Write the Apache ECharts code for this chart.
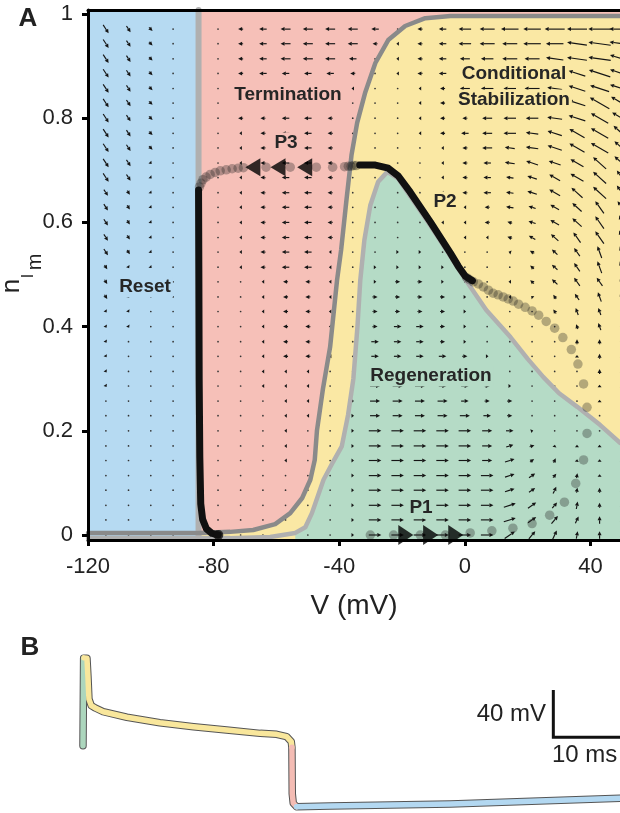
<!DOCTYPE html>
<html>
<head>
<meta charset="utf-8">
<script src="https://cdn.jsdelivr.net/npm/echarts@6/dist/echarts.min.js"></script>
<style>
html, body { margin: 0; padding: 0; background: #fff; }
#chart { width: 620px; height: 813px; }
</style>
</head>
<body>
<div id="chart"></div>
<script>
// ---------- panel A: phase plane ----------
var xTicks = [-120, -80, -40, 0, 40];
var yTicks = [0, 0.2, 0.4, 0.6, 0.8, 1];
var resetEdge = -84.8;

// dark grey boundary (termination / conditional stabilization)
var darkV = [-120, -84.8, -74.7, -67.4, -60.4, -55.6, -51.8, -49.2, -47.8, -47.1, -45.2, -42.9, -40.7, -39.4, -37.7, -36.1, -34.3, -31.7, -28.5, -24.4, -19, -12.6, -4.6, 49.4];
var darkN = [0.004, 0.004, 0.006, 0.0096, 0.021, 0.042, 0.071, 0.106, 0.144, 0.2, 0.28, 0.361, 0.489, 0.547, 0.643, 0.729, 0.791, 0.85, 0.906, 0.95, 0.977, 0.992, 0.996, 0.996];

// light grey boundary (regeneration)
var lightV = [-120, -74.7, -62, -54, -50.8, -48.7, -45, -42, -39.2, -37.2, -35.5, -34.2, -33.3, -32, -30.1, -27.6, -24.7, -21.2, -17.4, -11, -4.6, 0, 6.8, 14.5, 20, 25, 30, 35.8, 43.1, 49.4];
var lightN = [-0.006, -0.006, -0.004, 0.004, 0.015, 0.042, 0.106, 0.14, 0.17, 0.23, 0.3, 0.4, 0.489, 0.566, 0.633, 0.678, 0.697, 0.684, 0.65, 0.594, 0.535, 0.492, 0.432, 0.38, 0.338, 0.303, 0.272, 0.246, 0.211, 0.177];

// vector field: columns (mV), rows (n, top to bottom)
var fieldV = [-114.3, -107.1, -100, -92.9, -85.7, -78.6, -71.4, -64.3, -57.1, -50, -42.9, -35.7, -28.6, -21.4, -14.3, -7.1, 0, 7.1, 14.3, 21.4, 28.6, 35.7, 42.9, 50];
var fieldN = [0.971, 0.943, 0.914, 0.886, 0.857, 0.829, 0.8, 0.771, 0.743, 0.714, 0.686, 0.657, 0.629, 0.6, 0.571, 0.543, 0.514, 0.486, 0.457, 0.429, 0.4, 0.371, 0.343, 0.314, 0.286, 0.257, 0.229, 0.2, 0.171, 0.143, 0.114, 0.086, 0.057, 0.029, 0];
// each token: direction letter + length (base 36), "o0" = dot, "--" = none
var fieldRows = [
  "p4 p3 q2 o0 -- o0 a2 a3 a4 a4 a4 a4 a3 o0 a2 a3 a5 a6 a7 a7 a8 a8 a9 aA",
  "p4 p3 q2 o0 -- o0 a2 a3 a4 a4 a4 a4 a2 a1 a2 a3 a5 a6 a6 a7 a7 b8 b9 bA",
  "p4 p3 q2 o0 -- o0 a2 a3 a4 a4 a4 a3 o0 a1 a2 a3 a4 a5 a6 a6 b7 b8 b9 cA",
  "p4 p3 q2 o0 -- o0 a2 a3 a3 a3 a3 a2 o0 a1 a2 a3 a4 a5 a5 a6 b7 c7 c9 cA",
  "p4 p3 q2 o0 -- o0 a2 a3 a3 a3 a3 a1 o0 o0 a1 a2 a4 a5 a5 a6 b6 c7 c8 cA",
  "p4 p3 q2 o0 -- o0 a2 a3 a3 a3 a2 o0 o0 o0 a1 a2 a3 a4 a5 a5 b6 c7 d9 dA",
  "p4 p3 q2 o0 -- o0 a2 a2 a3 a3 a2 o0 o0 o0 a1 a2 a2 a4 a5 a5 b6 c7 d8 d9",
  "p4 p3 q2 o0 -- o0 a1 a2 a3 a3 a2 o0 o0 o0 a1 a2 a3 a4 a5 b5 c6 d7 d8 e9",
  "p4 p3 q2 o0 -- o0 a1 a2 a3 a3 a2 o0 o0 o0 o0 a1 a2 a4 b4 b5 c6 d7 d8 e8",
  "p4 p3 q1 o0 -- o0 a1 a2 a3 a3 a2 o0 o0 o0 o0 a1 a2 a3 b4 c5 c5 d6 e7 e8",
  "p4 p3 q1 o0 -- o0 a1 a2 a3 a3 a2 o0 o0 o0 o0 a1 a2 a3 b3 c4 d5 d6 e7 f7",
  "p3 p2 q1 o0 -- o0 a1 a2 a3 a3 a2 o0 o0 o0 o0 a1 a2 a3 b3 c4 d5 e6 e7 f7",
  "p3 p2 q1 o0 -- o0 a1 a2 a3 a3 a2 o0 o0 o0 o0 a1 a1 a2 b3 c3 d4 e5 f6 f6",
  "p3 p2 q1 o0 -- o0 a1 a2 a3 a3 a2 o0 o0 o0 o0 a1 a1 a2 c2 c3 d4 e5 f6 g6",
  "p3 p2 q1 o0 -- o0 a1 a2 a3 a3 a2 o0 o0 o0 o0 o0 a1 a1 c2 d3 e4 f5 f6 g6",
  "p3 p2 q1 o0 -- o0 a1 a2 a3 a3 a1 o0 o0 n1 n1 o0 o0 o0 c1 d2 e3 f4 g5 g5",
  "p2 p1 q1 o0 -- o0 a1 a2 a3 a3 a1 o0 n1 n1 n1 n1 o0 o0 o0 e2 e3 f4 g5 g5",
  "p2 p1 o0 o0 -- o0 o0 a1 a2 a2 a1 o0 n1 n2 n2 n1 o0 o0 a1 e2 e3 f4 f4 g4",
  "p2 p1 o0 o0 -- o0 o0 a1 a2 a2 a1 o0 n2 n2 n2 n2 n1 o0 a1 e1 f2 f3 g4 g4",
  "p1 p1 o0 o0 -- o0 o0 a1 a2 a2 a1 o0 n2 n2 n2 n2 n1 o0 o0 o0 f2 g3 g3 h4",
  "p1 p1 o0 o0 -- o0 o0 a1 a2 a2 a1 o0 n2 n3 n3 n2 n1 o0 o0 o0 o0 g2 g3 h3",
  "p1 o0 o0 o0 -- o0 o0 a1 a2 a2 a1 o0 n3 n3 n3 n2 n1 o0 o0 o0 o0 h2 h2 h3",
  "p1 o0 o0 o0 -- o0 o0 a1 a2 a2 a1 o0 n3 n3 n3 n3 n2 n1 o0 o0 o0 h1 h2 h2",
  "p1 o0 o0 o0 -- o0 o0 a1 a1 a1 o0 o0 n3 n3 n3 n3 n2 n1 o0 o0 o0 o0 h2 h2",
  "p1 o0 o0 o0 -- o0 o0 a1 a1 a1 o0 n1 n4 n4 n4 n3 n3 n2 n1 o0 o0 o0 h1 h1",
  "o0 o0 o0 o0 -- o0 o0 o0 a1 a1 o0 n1 n4 n4 n4 n4 n3 n2 n2 o0 o0 o0 h1 h1",
  "o0 o0 o0 o0 -- o0 o0 o0 a1 a1 o0 n1 n4 n4 n4 n4 n4 n3 n2 o0 o0 o0 o0 o0",
  "o0 o0 o0 o0 -- o0 o0 o0 a1 o0 o0 n1 n5 n5 n5 n5 n5 n4 n3 m1 o0 o0 o0 o0",
  "o0 o0 o0 o0 -- o0 o0 o0 a1 o0 o0 n1 n5 n5 n5 n5 n5 n4 m3 m2 i1 h1 h1 o0",
  "o0 o0 o0 o0 -- o0 o0 o0 a1 o0 o0 n1 n5 n5 n5 n5 n5 n4 m4 l2 j2 i1 h1 h1",
  "o0 o0 o0 o0 -- o0 o0 o0 o0 o0 o0 n1 n5 n5 n5 n5 n5 n5 m4 l3 k2 i2 h1 h1",
  "o0 o0 o0 o0 -- o0 o0 o0 o0 o0 o0 n1 n5 n5 n5 n5 n5 n5 m4 l3 j3 i2 h2 h1",
  "o0 o0 o0 o0 -- o0 o0 o0 o0 o0 o0 n1 n5 n5 n5 n5 n5 n5 m5 l4 k3 i3 h2 h2",
  "o0 o0 o0 o0 -- o0 o0 o0 o0 o0 o0 n1 n5 n5 n5 n5 n5 n5 m5 l4 k4 j3 h3 h2",
  "o0 o0 o0 o0 -- o0 o0 o0 o0 o0 o0 n1 n5 n5 n5 n5 n5 n5 l5 k4 j4 i3 h3 h2"
];
var dirAngle = { a: 180, b: 172, c: 162, d: 150, e: 138, f: 125, g: 110, h: 90, i: 80, j: 65, k: 50, l: 35, m: 18, n: 0, p: -57, q: -45, o: 0 };

// trajectory: P1 loop dots, P2 (black), P3 return dots, reset (black)
var loopDotV = [-30.1, -22.7, -14.2, -6.2, 1.7, 8.6, 15.3, 21.4, 27.0, 31.7, 35.3, 37.8, 38.9, 38.9, 37.8, 36.0, 33.9, 31.2, 28.6, 25.9, 23.5, 21.4, 19.2, 17.1, 15.4, 13.8, 12.2, 10.6, 9.0, 7.5, 5.9, 4.3, 2.7, 1.5, 0.6];
var loopDotN = [0, 0, 0, 0, 0.004, 0.008, 0.013, 0.022, 0.038, 0.063, 0.099, 0.144, 0.195, 0.245, 0.29, 0.328, 0.356, 0.379, 0.397, 0.41, 0.422, 0.43, 0.437, 0.443, 0.449, 0.453, 0.457, 0.461, 0.464, 0.47, 0.476, 0.482, 0.486, 0.49, 0.494];
var p2V = [2.4, 0.1, -2.1, -4.6, -11.0, -17.4, -21.2, -24.4, -28.5, -33.5];
var p2N = [0.488, 0.497, 0.516, 0.541, 0.601, 0.658, 0.689, 0.704, 0.710, 0.710];
var returnDotV = [-34.6, -35.4, -36.2, -37.1, -38.3, -42.1, -47.3, -55.6, -63.3, -70.5, -72.2, -74.1, -76.0, -77.9, -79.5, -81.1, -82.4, -83.4, -84.0, -84.5];
var returnDotN = [0.709, 0.709, 0.708, 0.708, 0.707, 0.706, 0.706, 0.706, 0.706, 0.705, 0.704, 0.703, 0.701, 0.699, 0.696, 0.692, 0.687, 0.682, 0.675, 0.668];
var resetV = [-84.8, -84.7, -84.6, -84.4, -84.1, -83.5, -82.3, -80.5, -78.5];
var resetN = [0.662, 0.5, 0.3, 0.15, 0.06, 0.03, 0.012, 0.003, 0];
var p3ArrowV = [-67.5, -59.5, -51];
var p3ArrowN = [0.706, 0.706, 0.706];
var p1ArrowV = [-18.8, -10.9, -2.9];
var p1ArrowN = [0, 0, 0];

// ---------- panel B: action potential ----------
var upT = [0.15, 0.25];
var upV = [-33.5, 40.5];
var plateauT = [0.3, 0.75, 0.9, 1.05, 1.4, 2.0, 3.2, 6.8, 11.8, 16.9, 21.9, 27.0, 29.5, 31.0, 31.7, 31.8];
var plateauV = [40.8, 40.5, 25, 6, 0.5, -1.5, -4.7, -9.4, -14, -17.4, -20.2, -23, -23.8, -25.8, -30, -34.8];
var repolT = [31.8, 31.85, 32.0, 32.5];
var repolV = [-34.8, -74, -82, -85];
var restT = [32.5, 37.6, 55.8, 81.5];
var restV = [-85, -84.4, -82.7, -77.9];
var scaleT = [71.4, 71.4, 81.5];
var scaleV = [13.7, -26.3, -26.3];

var cBlue = '#b6daf2', cPink = '#f6c0b8', cYellow = '#fae8a4', cGreen = '#b5dbc6';
var FONT = 'Liberation Sans, Arial, sans-serif';
var yMin = -0.0096, yMax = 1.0077, xMax = 49.4;

function zip(a, b) {
    var out = [];
    for (var i = 0; i < a.length; i++) out.push([a[i], b[i]]);
    return out;
}

// field data
var fieldData = [];
for (var r = 0; r < fieldRows.length; r++) {
    var toks = fieldRows[r].split(' ');
    for (var c = 0; c < toks.length; c++) {
        if (toks[c] === '--') continue;
        fieldData.push([fieldV[c], fieldN[r], dirAngle[toks[c][0]], parseInt(toks[c][1], 36)]);
    }
}

function renderArrow(params, api) {
    var p = api.coord([api.value(0), api.value(1)]);
    var len = api.value(3) * 2.5;
    var col = '#151515';
    if (len === 0) {
        return { type: 'circle', shape: { cx: p[0], cy: p[1], r: 0.85 }, style: { fill: '#333' } };
    }
    var ang = api.value(2) * Math.PI / 180;
    var ux = Math.cos(ang), uy = -Math.sin(ang);
    var tail = [p[0] - ux * len / 2, p[1] - uy * len / 2];
    var tip = [p[0] + ux * len / 2, p[1] + uy * len / 2];
    var hl = Math.min(4, len), hw = 2;
    var base = [tip[0] - ux * hl, tip[1] - uy * hl];
    var kids = [];
    if (len > hl) {
        kids.push({ type: 'line', shape: { x1: tail[0], y1: tail[1], x2: base[0], y2: base[1] }, style: { stroke: col, lineWidth: 1.15 } });
    }
    kids.push({ type: 'polygon', shape: { points: [tip, [base[0] - uy * hw, base[1] + ux * hw], [base[0] + uy * hw, base[1] - ux * hw]] }, style: { fill: col } });
    return { type: 'group', children: kids };
}

function areaLine(data, color, origin) {
    return {
        type: 'line', data: data, xAxisIndex: 0, yAxisIndex: 0, symbol: 'none', silent: true, z: 1,
        lineStyle: { width: 0 }, areaStyle: { color: color, opacity: 1, origin: origin }
    };
}

function strokeLine(data, color, width, xi, yi, z) {
    return {
        type: 'line', data: data, xAxisIndex: xi, yAxisIndex: yi, symbol: 'none', silent: true, z: z,
        lineStyle: { color: color, width: width, cap: 'round', join: 'round' }
    };
}

function label(text, x, y, bg, size) {
    return {
        type: 'text', x: x, y: y, z: 50,
        style: {
            text: text, fill: '#262626', font: 'bold ' + (size || 19) + 'px ' + FONT,
            align: 'center', verticalAlign: 'middle', textAlign: 'center', textVerticalAlign: 'middle',
            backgroundColor: bg, padding: [1, 2]
        }
    };
}

function plainText(text, x, y, size, align, weight, rot) {
    return {
        type: 'text', x: x, y: y, z: 50, rotation: rot || 0,
        style: {
            text: text, fill: '#222', font: (weight || 'normal') + ' ' + size + 'px ' + FONT,
            align: align, verticalAlign: 'middle', textAlign: align, textVerticalAlign: 'middle'
        }
    };
}

var darkAll = zip(darkV, darkN);
var lightAll = zip(lightV, lightN);

var myChart = echarts.init(document.getElementById('chart'));
var option = {
    animation: false,
    grid: [
        { left: 88, top: 10, width: 532, height: 530 },
        { left: 82, top: 640, width: 538, height: 173 }
    ],
    xAxis: [
        {
            gridIndex: 0, type: 'value', min: -120, max: xMax, z: 10,
            axisLine: { show: true, onZero: false, lineStyle: { color: '#000', width: 3 } },
            axisTick: { show: true, customValues: xTicks, length: 6, lineStyle: { color: '#000', width: 3 } },
            axisLabel: { customValues: xTicks, fontSize: 22, color: '#222', margin: 16, fontFamily: FONT },
            splitLine: { show: false },
            name: 'V (mV)', nameLocation: 'middle', nameGap: 52,
            nameTextStyle: { fontSize: 28, color: '#222', fontFamily: FONT }
        },
        {
            gridIndex: 0, type: 'value', min: -120, max: xMax, position: 'top', z: 10,
            axisLine: { show: true, onZero: false, lineStyle: { color: '#000', width: 3 } },
            axisTick: { show: false }, axisLabel: { show: false }, splitLine: { show: false }
        },
        { gridIndex: 1, type: 'value', min: 0, max: 81.5, show: false }
    ],
    yAxis: [
        {
            gridIndex: 0, type: 'value', min: yMin, max: yMax, z: 10,
            axisLine: { show: true, onZero: false, lineStyle: { color: '#000', width: 3 } },
            axisTick: { show: true, customValues: yTicks, length: 6, lineStyle: { color: '#000', width: 3 } },
            axisLabel: { customValues: yTicks, fontSize: 22, color: '#222', margin: 15, fontFamily: FONT },
            splitLine: { show: false }
        },
        { gridIndex: 1, type: 'value', min: -90.3, max: 55.9, show: false }
    ],
    series: [
        areaLine([[resetEdge, yMax], [xMax, yMax]], cYellow, 'start'),
        areaLine(darkAll.filter(function (d) { return d[0] >= resetEdge; }), cPink, 'end'),
        areaLine(lightAll.filter(function (d) { return d[0] >= -60; }), cGreen, 'start'),
        areaLine([[-120, yMax], [resetEdge, yMax]], cBlue, 'start'),
        {
            type: 'custom', xAxisIndex: 0, yAxisIndex: 0, data: fieldData, renderItem: renderArrow,
            encode: { x: 0, y: 1 }, clip: true, silent: true, z: 2
        },
        strokeLine(lightAll, '#b0b0b0', 4.5, 0, 0, 3),
        strokeLine([[resetEdge, -0.006], [resetEdge, yMax]], '#b0b0b0', 6, 0, 0, 3),
        strokeLine(darkAll, '#8a8a8a', 4.5, 0, 0, 3),
        {
            type: 'scatter', xAxisIndex: 0, yAxisIndex: 0, silent: true, z: 4,
            data: zip(loopDotV, loopDotN).concat(zip(returnDotV, returnDotN)),
            symbolSize: 9.5, itemStyle: { color: 'rgba(30,30,30,0.4)' }
        },
        strokeLine(zip(p2V, p2N), '#111', 7, 0, 0, 5),
        strokeLine(zip(resetV, resetN), '#111', 7, 0, 0, 5),
        {
            type: 'scatter', xAxisIndex: 0, yAxisIndex: 0, silent: true, z: 5,
            data: [[resetV[resetV.length - 1], resetN[resetN.length - 1]]],
            symbolSize: 10, itemStyle: { color: '#111' }
        },
        {
            type: 'scatter', xAxisIndex: 0, yAxisIndex: 0, silent: true, z: 6,
            data: zip(p3ArrowV, p3ArrowN), symbol: 'triangle', symbolRotate: 90,
            symbolSize: [18, 15], itemStyle: { color: '#000' }
        },
        {
            type: 'scatter', xAxisIndex: 0, yAxisIndex: 0, silent: true, z: 6,
            data: zip(p1ArrowV, p1ArrowN), symbol: 'triangle', symbolRotate: -90,
            symbolSize: [20, 15], itemStyle: { color: '#000' }
        },
        // panel B trace: outline then coloured fill
        strokeLine(zip(upT, upV).concat(zip(plateauT, plateauV), zip(repolT, repolV), zip(restT, restV)), '#555', 7.5, 2, 1, 3),
        strokeLine(zip(upT, upV), '#acd6bd', 5.5, 2, 1, 4),
        strokeLine(zip(plateauT, plateauV), '#f9e79c', 5.5, 2, 1, 4),
        strokeLine(zip(repolT, repolV), '#f4bcb4', 5.5, 2, 1, 4),
        strokeLine(zip(restT, restV), '#b3d8f1', 5.5, 2, 1, 4),
        {
            type: 'line', xAxisIndex: 2, yAxisIndex: 1, data: zip(scaleT, scaleV), symbol: 'none', silent: true, z: 4,
            lineStyle: { color: '#111', width: 3, join: 'miter' }
        }
    ],
    graphic: [
        plainText('A', 28, 19, 26, 'center', 'bold'),
        plainText('B', 30, 648, 26, 'center', 'bold'),
        plainText('n', 12, 286, 26, 'center', 'normal', Math.PI / 2),
        plainText('I', 29, 276, 16, 'center', 'normal', Math.PI / 2),
        plainText('m', 35, 262, 20, 'center', 'normal', Math.PI / 2),
        label('Reset', 145, 287, cBlue),
        label('Termination', 288, 95, cPink),
        label('Conditional', 514, 74, cYellow),
        label('Stabilization', 514, 100, cYellow),
        label('Regeneration', 431, 376, cGreen),
        label('P3', 286, 143, cPink),
        label('P2', 445, 202, cYellow),
        label('P1', 421, 508, cGreen),
        plainText('40 mV', 546, 714, 24, 'right'),
        plainText('10 ms', 552, 755, 24, 'left')
    ]
};
myChart.setOption(option);

window.onresize = function () {
    myChart.resize();
};
</script>
</body>
</html>
